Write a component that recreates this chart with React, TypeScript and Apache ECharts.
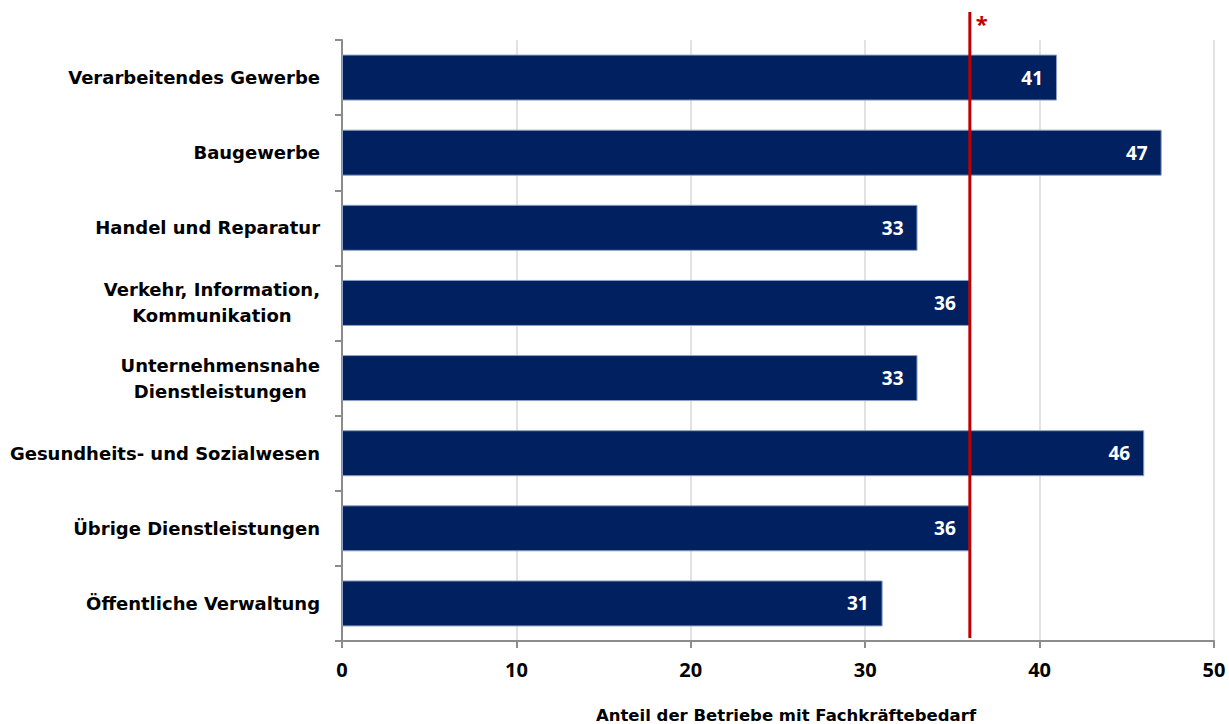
import React, { useEffect, useRef } from "react";
import * as echarts from "echarts";

const categories = [
  "Verarbeitendes Gewerbe",
  "Baugewerbe",
  "Handel und Reparatur",
  "Verkehr, Information,\nKommunikation",
  "Unternehmensnahe\nDienstleistungen",
  "Gesundheits- und Sozialwesen",
  "Übrige Dienstleistungen",
  "Öffentliche Verwaltung",
];
const values = [41, 47, 33, 36, 33, 46, 36, 31];
const referenceValue = 36;
const xTicks = [0, 10, 20, 30, 40, 50];
const axisTitle = "Anteil der Betriebe mit Fachkräftebedarf";

const FONT = "'DejaVu Sans', 'Open Sans', sans-serif";
const NUMFONT = "'Open Sans', 'DejaVu Sans', sans-serif";

export default function App() {
  const ref = useRef<HTMLDivElement>(null);
  useEffect(() => {
    if (!ref.current) return;
    const chart = echarts.init(ref.current, undefined, { renderer: "svg" });
    const option: any = {
      animation: false,
      backgroundColor: "#ffffff",
      grid: { left: 342, right: 15, top: 40, bottom: 83, containLabel: false, outerBoundsMode: "none" },
      xAxis: {
        type: "value",
        min: xTicks[0],
        max: xTicks[xTicks.length - 1],
        interval: 10,
        name: axisTitle,
        nameLocation: "middle",
        nameGap: 66,
        nameTextStyle: {
          fontFamily: FONT,
          fontWeight: "bold",
          fontSize: 16.5,
          color: "#000",
          padding: [0, 0, 0, 16],
        },
        axisLine: { show: true, lineStyle: { color: "#8c8c8c", width: 2 } },
        axisTick: { show: true, length: 7, lineStyle: { color: "#8c8c8c", width: 2 } },
        axisLabel: { fontFamily: NUMFONT, fontWeight: "bold", fontSize: 20, color: "#000", margin: 18 },
        splitLine: { show: true, lineStyle: { color: "#d9d9d9", width: 1.5 } },
      },
      yAxis: {
        type: "category",
        data: categories,
        inverse: true,
        axisLine: { show: true, lineStyle: { color: "#8c8c8c", width: 2 } },
        axisTick: { show: true, length: 7, lineStyle: { color: "#8c8c8c", width: 2 } },
        axisLabel: {
          margin: 22,
          formatter: (v: string) => v.split("\n").map((l) => `{c|${l}}`).join("\n"),
          rich: {
            c: {
              align: "center",
              fontFamily: FONT,
              fontWeight: "bold",
              fontSize: 18,
              color: "#000",
              lineHeight: 26,
            },
          },
        },
      },
      series: [
        {
          type: "bar",
          data: values,
          barWidth: 46,
          itemStyle: { color: "#002060", borderColor: "#8ea0c0", borderWidth: 1 },
          label: {
            show: true,
            position: "insideRight",
            distance: 14,
            color: "#fff",
            fontFamily: NUMFONT,
            fontWeight: "bold",
            fontSize: 19,
          },
        },
      ],
    };
    chart.setOption(option);
    const px = chart.convertToPixel({ xAxisIndex: 0 }, referenceValue) as number;
    chart.setOption({
      graphic: [
        {
          type: "line",
          shape: { x1: px, y1: 12, x2: px, y2: 638 },
          style: { stroke: "#c00000", lineWidth: 3 },
          z: 100,
        },
        {
          type: "text",
          x: px + 6,
          y: 12,
          style: { text: "*", fill: "#c00000", font: `bold 22px ${NUMFONT}` },
          z: 100,
        },
      ],
    });
    return () => chart.dispose();
  }, []);
  return <div ref={ref} style={{ width: 1229, height: 724, position: "absolute", left: 0, top: 0 }} />;
}
